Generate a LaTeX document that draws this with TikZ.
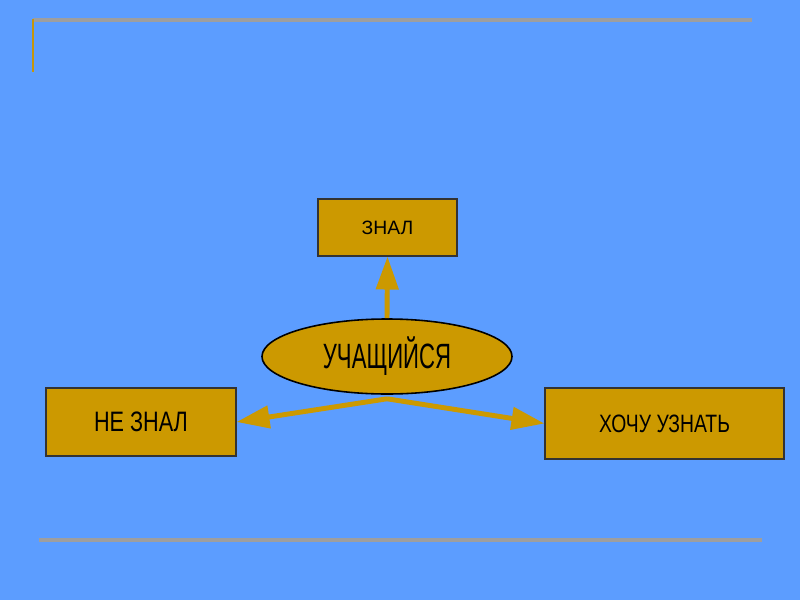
\documentclass[tikz,border=0pt]{standalone}
\usepackage{fontspec}
\setmainfont{Liberation Sans}
\newfontfamily\narrowfont[FakeStretch=0.63]{Liberation Sans}
\newfontfamily\semifont[FakeStretch=0.77]{Liberation Sans}
\usepackage{tikz}
\usetikzlibrary{positioning, calc, shapes.geometric, arrows.meta}
\definecolor{slideblue}{RGB}{92,157,255}
\definecolor{slidegold}{RGB}{204,153,0}
\definecolor{slidegray}{RGB}{158,158,158}
\tikzset{
	goldbox/.style={draw=black!80, fill=slidegold, line width=0.6pt, inner sep=0pt}
}
\tikzset{
	goldarrow/.style={draw=slidegold, line width=2.8pt, -{Triangle[length=0.66cm,width=0.44cm]}}
}

\begin{document}
\begin{tikzpicture}
      % slide background and frame lines
      \fill[slideblue] (0,0) rectangle (16,12);
      \useasboundingbox (0,0) rectangle (16,12);
      \draw[slidegray, line width=2.3pt] (0.66,11.6) -- (15.04,11.6);
      \draw[slidegold!90!gray, line width=1.1pt] (0.66,11.62) -- (0.66,10.56);
      \draw[slidegray, line width=1.8pt] (0.78,1.2) -- (15.24,1.2);

      \node[goldbox, minimum width=2.78cm, minimum height=1.14cm, font=\fontsize{11}{13}\selectfont]
        (znal) at (7.75,7.45) {ЗНАЛ};
      \node[goldbox, ellipse, draw=black, line width=0.9pt, minimum width=5cm, minimum height=1.5cm,
        font=\narrowfont\fontsize{20}{24}\selectfont] (student) at (7.74,4.87) {УЧАЩИЙСЯ};
      \node[goldbox, minimum width=3.8cm, minimum height=1.36cm, font=\semifont\fontsize{16}{19}\selectfont]
        (neznal) at (2.82,3.56) {НЕ ЗНАЛ};
      \node[goldbox, minimum width=4.78cm, minimum height=1.42cm, font=\semifont\fontsize{14.3}{17}\selectfont]
        (want) at (13.29,3.53) {ХОЧУ УЗНАТЬ};

      \coordinate (hub) at ($(student.south)+(0,-0.08)$);
      \draw[goldarrow] (student.north) -- (znal.south);
      \draw[goldarrow] (hub) -- (neznal.east);
      \draw[goldarrow] (hub) -- (want.west);
    \end{tikzpicture}
\end{document}
